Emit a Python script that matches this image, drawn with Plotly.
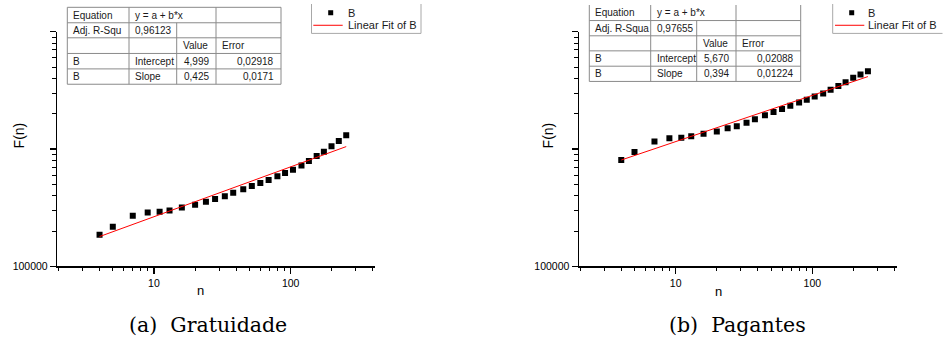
import math
import plotly.graph_objects as go

W, H_REF = 943, 342
H = 349  # figure height; positions below are given in reference-image pixels

# ---------------- data ----------------
n_values = [4, 5, 7, 9, 11, 13, 16, 20, 24, 28, 33, 38, 45, 52, 60, 69, 80, 91,
            104, 120, 136, 155, 175, 199, 225, 255]
F_gratuidade = [186e3, 218e3, 270e3, 288e3, 292e3, 300e3, 318e3, 335e3, 356e3, 375e3,
                397e3, 424e3, 455e3, 486e3, 515e3, 546e3, 586e3, 626e3, 668e3, 727e3,
                791e3, 873e3, 949e3, 1.06e6, 1.175e6, 1.315e6]
F_pagantes = [807e3, 944e3, 1.16e6, 1.24e6, 1.25e6, 1.29e6, 1.35e6, 1.41e6, 1.51e6, 1.57e6,
              1.68e6, 1.80e6, 1.94e6, 2.07e6, 2.20e6, 2.34e6, 2.50e6, 2.63e6, 2.81e6, 2.98e6,
              3.20e6, 3.46e6, 3.72e6, 4.05e6, 4.32e6, 4.61e6]
fit_intercept = [4.999, 5.670]
fit_slope = [0.425, 0.394]

table_a = [["Equation", "y = a + b*x", "", ""],
           ["Adj. R-Squ", "0,96123", "", ""],
           ["", "", "Value", "Error"],
           ["B", "Intercept", "4,999", "0,02918"],
           ["B", "Slope", "0,425", "0,0171"]]
table_b = [["Equation", "y = a + b*x", "", ""],
           ["Adj. R-Squa", "0,97655", "", ""],
           ["", "", "Value", "Error"],
           ["B", "Intercept", "5,670", "0,02088"],
           ["B", "Slope", "0,394", "0,01224"]]
legend_labels = ["B", "Linear Fit of B"]
captions = ["(a)&nbsp; Gratuidade", "(b)&nbsp; Pagantes"]
x_title = "n"
y_title = "F(n)"
x_tickvals = [10, 100]
x_ticktext = ["10", "100"]
x_minor = [2, 3, 4, 5, 6, 7, 8, 9, 20, 30, 40, 50, 60, 70, 80, 90, 200, 300, 400]
y_tickvals = [1e5, 1e6, 1e7]
y_ticktext = ["100000", "", ""]
y_minor = [2e5, 3e5, 4e5, 5e5, 6e5, 7e5, 8e5, 9e5, 2e6, 3e6, 4e6, 5e6, 6e6, 7e6, 8e6, 9e6]

# ---------------- geometry (reference pixels) ----------------
panels = [
    dict(x0=57.3, x1=375.0, series=F_gratuidade,
         cols=[67.3, 129.0, 176.7, 216.0, 281.0],
         rows=[7.3, 22.7, 37.7, 53.3, 68.7, 84.0], top_border=True,
         leg=dict(x0=311.5, x1=421.0, y1=33.3, mk=330.7, line=(313.3, 342.7), tx=346.0, right=True),
         ytitle=(19, 135), xtitle=(200, 290), cap=(208.4, 324)),
    dict(x0=579.0, x1=896.7, series=F_pagantes,
         cols=[589.3, 650.7, 696.7, 736.0, 800.7],
         rows=[5.0, 20.5, 35.7, 50.7, 66.0, 81.2], top_border=False,
         leg=dict(x0=832.7, x1=942.5, y1=33.3, mk=851.7, line=(835.0, 864.3), tx=866.0, right=False),
         ytitle=(548, 135), xtitle=(718, 291), cap=(737.5, 324)),
]
plot_top, plot_bottom = 31.7, 265.7


def px(x):
    return x / W


def py(y):
    return 1 - y / H_REF


fig = go.Figure()
shapes = []
annotations = []
FONT = "Liberation Sans, Arial, sans-serif"
GRID = "#8a8a8a"

for i, p in enumerate(panels):
    sfx = "" if i == 0 else str(i + 1)
    xa, ya = "x" + sfx, "y" + sfx
    fig.add_trace(go.Scatter(x=n_values, y=p["series"], mode="markers",
                             marker=dict(symbol="square", size=6, color="black"),
                             xaxis=xa, yaxis=ya, showlegend=False))
    nfit = [n_values[0], n_values[-1]]
    ffit = [10 ** (fit_intercept[i] + fit_slope[i] * math.log10(v)) for v in nfit]
    fig.add_trace(go.Scatter(x=nfit, y=ffit, mode="lines",
                             line=dict(color="#ff0000", width=1),
                             xaxis=xa, yaxis=ya, showlegend=False))

    axis_common = dict(type="log", showgrid=False, zeroline=False, showline=True,
                       linecolor="black", linewidth=1.5, ticks="outside", ticklen=6,
                       tickwidth=1.3, tickcolor="black",
                       tickfont=dict(family=FONT, size=10.5, color="black"))
    fig.update_layout(**{
        "xaxis" + sfx: dict(axis_common, domain=[px(p["x0"]), px(p["x1"])],
                            range=[0.293, 2.617], anchor=ya,
                            tickmode="array", tickvals=x_tickvals, ticktext=x_ticktext,
                            minor=dict(tickmode="array", tickvals=x_minor, ticks="outside",
                                       ticklen=3, tickwidth=1, tickcolor="black", showgrid=False)),
        "yaxis" + sfx: dict(axis_common, domain=[py(plot_bottom), py(plot_top)],
                            range=[5, 7], anchor=xa,
                            tickmode="array", tickvals=y_tickvals, ticktext=y_ticktext,
                            minor=dict(tickmode="array", tickvals=y_minor, ticks="outside",
                                       ticklen=4, tickwidth=1, tickcolor="black", showgrid=False)),
    })

    # ---- fit table ----
    cols, rows, tab = p["cols"], p["rows"], (table_a if i == 0 else table_b)
    line = dict(color=GRID, width=1)
    for r_i, yv in enumerate(rows):
        if r_i == 0 and not p["top_border"]:
            continue
        shapes.append(dict(type="line", xref="paper", yref="paper", x0=px(cols[0]), x1=px(cols[-1]),
                           y0=py(yv), y1=py(yv), line=line))
    for c_i, xv in enumerate(cols):
        start = rows[1] if c_i == 2 else rows[0]
        shapes.append(dict(type="line", xref="paper", yref="paper", x0=px(xv), x1=px(xv),
                           y0=py(start), y1=py(rows[-1]), line=line))
    for r_i, row in enumerate(tab):
        yc = (rows[r_i] + rows[r_i + 1]) / 2
        for c_i, txt in enumerate(row):
            if not txt:
                continue
            right_align = r_i >= 3 and c_i >= 2
            if right_align:
                xx, anc = cols[c_i + 1] - 5, "right"
            else:
                xx, anc = cols[c_i] + 4, "left"
            annotations.append(dict(text=txt, xref="paper", yref="paper", x=px(xx), y=py(yc),
                                    xanchor=anc, yanchor="middle", showarrow=False,
                                    font=dict(family=FONT, size=10, color="#1a1a1a")))

    # ---- legend ----
    lg = p["leg"]
    lgc = dict(color="#a8a8a8", width=1)
    shapes.append(dict(type="line", xref="paper", yref="paper", x0=px(lg["x0"]), x1=px(lg["x0"]),
                       y0=py(4), y1=py(lg["y1"]), line=lgc))
    shapes.append(dict(type="line", xref="paper", yref="paper", x0=px(lg["x0"]), x1=px(lg["x1"]),
                       y0=py(lg["y1"]), y1=py(lg["y1"]), line=lgc))
    if lg["right"]:
        shapes.append(dict(type="line", xref="paper", yref="paper", x0=px(lg["x1"]), x1=px(lg["x1"]),
                           y0=py(4), y1=py(lg["y1"]), line=lgc))
    shapes.append(dict(type="rect", xref="paper", yref="paper",
                       x0=px(lg["mk"] - 2.5), x1=px(lg["mk"] + 2.5),
                       y0=py(12.7 + 2.5), y1=py(12.7 - 2.5), fillcolor="black", line=dict(width=0)))
    shapes.append(dict(type="line", xref="paper", yref="paper", x0=px(lg["line"][0]), x1=px(lg["line"][1]),
                       y0=py(25.2), y1=py(25.2), line=dict(color="#ff0000", width=1)))
    for k, yy in enumerate([12.7, 25.2]):
        annotations.append(dict(text=legend_labels[k], xref="paper", yref="paper", x=px(lg["tx"]), y=py(yy),
                                xanchor="left", yanchor="middle", showarrow=False,
                                font=dict(family=FONT, size=11, color="#1a1a1a")))

    # ---- axis titles & caption ----
    annotations.append(dict(text=y_title, xref="paper", yref="paper", x=px(p["ytitle"][0]), y=py(p["ytitle"][1]),
                            textangle=-90, xanchor="center", yanchor="middle", showarrow=False,
                            font=dict(family=FONT, size=14, color="black")))
    annotations.append(dict(text=x_title, xref="paper", yref="paper", x=px(p["xtitle"][0]), y=py(p["xtitle"][1]),
                            xanchor="center", yanchor="middle", showarrow=False,
                            font=dict(family=FONT, size=13, color="black")))
    annotations.append(dict(text=captions[i], xref="paper", yref="paper", x=px(p["cap"][0]), y=py(p["cap"][1]),
                            xanchor="center", yanchor="middle", showarrow=False,
                            font=dict(family="DejaVu Serif, serif", size=20.5, color="black")))

fig.update_layout(width=W, height=H, autosize=False, margin=dict(l=0, r=0, t=0, b=0),
                  paper_bgcolor="white", plot_bgcolor="white", showlegend=False,
                  shapes=shapes, annotations=annotations)

fig.write_html("out.html", config={"displayModeBar": False, "staticPlot": True},
               post_script=("document.documentElement.style.margin='0';"
                            "document.documentElement.style.overflow='hidden';"
                            "document.body.style.margin='0';"
                            "document.body.style.overflow='hidden';"))
